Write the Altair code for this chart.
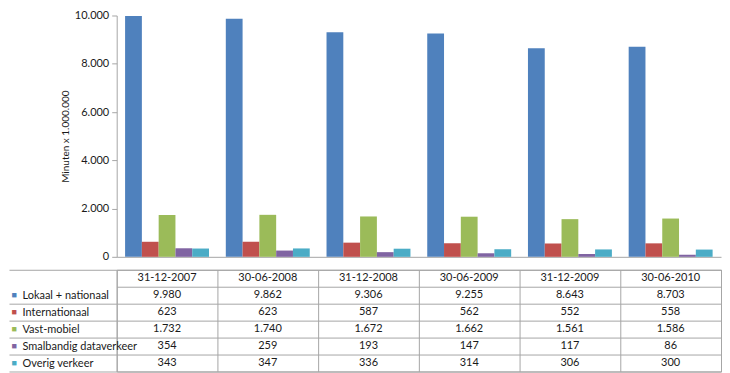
import altair as alt
import pandas as pd

dates = ["31-12-2007", "30-06-2008", "31-12-2008", "30-06-2009", "31-12-2009", "30-06-2010"]
series = ["Lokaal + nationaal", "Internationaal", "Vast-mobiel", "Smalbandig dataverkeer", "Overig verkeer"]
colors = ["#4F81BD", "#C0504D", "#9BBB59", "#8064A2", "#4BACC6"]
lokaal = [9980, 9862, 9306, 9255, 8643, 8703]
internationaal = [623, 623, 587, 562, 552, 558]
vast_mobiel = [1732, 1740, 1672, 1662, 1561, 1586]
smalbandig = [354, 259, 193, 147, 117, 86]
overig = [343, 347, 336, 314, 306, 300]
y_ticks = [0, 2000, 4000, 6000, 8000, 10000]
y_title = "Minuten x 1.000.000"

values = [lokaal, internationaal, vast_mobiel, smalbandig, overig]
recs = []
for s, vals in zip(series, values):
    for d, v in zip(dates, vals):
        recs.append({"series": s, "date": d, "value": v, "text": f"{v:,}".replace(",", ".")})
df = pd.DataFrame(recs)
hdr = pd.DataFrame({"series": "hdr", "date": dates, "value": 0, "text": dates})
tdf = pd.concat([hdr, df], ignore_index=True)
row_order = ["hdr"] + series

FONT = "Lato"
GRID = "#a6a6a6"
TXT = "#1a1a1a"
W = 606
ROW_H = 17

bars = alt.Chart(df).mark_bar().encode(
    x=alt.X("date:N", sort=dates, scale=alt.Scale(paddingInner=0, paddingOuter=0),
            axis=alt.Axis(title=None, labels=False, ticks=False, domainColor=GRID)),
    xOffset=alt.XOffset("series:N", sort=series, scale=alt.Scale(paddingInner=0, paddingOuter=0.5)),
    y=alt.Y("value:Q", scale=alt.Scale(domain=[0, 10000], nice=False),
            axis=alt.Axis(values=y_ticks, grid=False, title=y_title,
                          labelExpr="replace(format(datum.value, ','), ',', '.')",
                          labelFont=FONT, labelFontSize=11, labelColor=TXT, labelPadding=3,
                          tickSize=5, tickColor=GRID, domainColor=GRID,
                          titleFont=FONT, titleFontSize=10, titleFontWeight="normal",
                          titleColor=TXT, titlePadding=4)),
    color=alt.Color("series:N", sort=series, scale=alt.Scale(domain=series, range=colors), legend=None),
).properties(width=W, height=242, view=alt.ViewBackground(stroke="transparent"))

xt = alt.X("date:N", sort=dates, scale=alt.Scale(paddingInner=0, paddingOuter=0),
           axis=alt.Axis(title=None, orient="top", labels=False, ticks=False, domain=False,
                         grid=True, gridColor=GRID, tickBand="extent"))

names_axis = alt.Axis(
    title=None, orient="left", tickBand="extent", grid=True, gridColor=GRID, domain=False,
    ticks=True, tickSize=108,
    tickColor={"condition": {"test": "datum.value === 'hdr'", "value": "transparent"}, "value": GRID},
    labelExpr="datum.value === 'hdr' ? '' : datum.value",
    labelAlign="left", labelBaseline="middle", labelPadding=-13,
    labelFont=FONT, labelFontSize=11, labelColor=TXT, labelLimit=0,
)
sq_axis = alt.Axis(
    title=None, orient="left", grid=False, domain=False, ticks=False,
    labelExpr="datum.value === 'hdr' ? '' : '■'",
    labelAlign="left", labelBaseline="middle", labelPadding=106,
    labelFontSize=9, labelLimit=0,
    labelColor={"condition": [{"test": f"datum.value === '{s}'", "value": c} for s, c in zip(series, colors)],
                "value": "transparent"},
)
yscale = alt.Scale(paddingInner=0, paddingOuter=0)

text_layer = alt.Chart(tdf).mark_text(font=FONT, fontSize=11, color=TXT).encode(
    x=xt,
    y=alt.Y("series:N", sort=row_order, scale=yscale, axis=names_axis),
    text="text:N",
)
sq_layer = alt.Chart(tdf).mark_text(opacity=0).encode(
    x=xt,
    y=alt.Y("series:N", sort=row_order, scale=yscale, axis=sq_axis),
    text="text:N",
)
table = alt.layer(text_layer, sq_layer).resolve_axis(y="independent").properties(
    width=W, height=ROW_H * 6, view=alt.ViewBackground(stroke=GRID))

chart = alt.vconcat(bars, table, spacing=0).properties(
    padding={"left": 0, "top": 0, "right": 0, "bottom": 0}
)
chart.save("out.html", embed_options={"renderer": "svg", "actions": False})
